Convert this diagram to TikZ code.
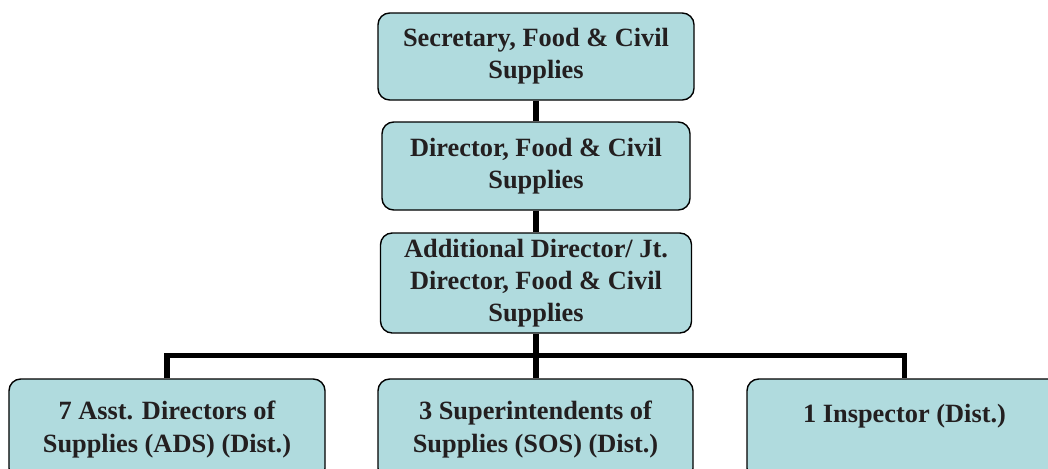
\documentclass[tikz,border=0pt]{standalone}
\usepackage{fontspec}
\setmainfont{Liberation Serif}

\definecolor{postfill}{RGB}{176,219,222}
\definecolor{postink}{RGB}{35,31,32}

\begin{document}
\begin{tikzpicture}[x=0.03cm, y=-0.03cm,
	post/.style={draw=black, line width=1.2pt, rounded corners=10pt, fill=postfill,
		text=postink, align=center, inner sep=0pt,
		font=\fontsize{22.5}{27.5}\selectfont\bfseries},
	link/.style={line width=4.4pt}]
	\clip (0,0) rectangle (1048,468);

	% head office
	\node[post, minimum width=9.48cm, minimum height=2.61cm] (sec) at (536,56.5)
		{Secretary, Food \& Civil\\Supplies};
	\node[post, minimum width=9.24cm, minimum height=2.64cm] (dir) at (536,166)
		{Director, Food \& Civil\\Supplies};
	\node[post, minimum width=9.33cm, minimum height=3.0cm] (addl) at (536,283)
		{Additional Director/ Jt.\\Director, Food \& Civil\\Supplies};

	% district level
	\node[post, minimum width=9.48cm, minimum height=3.03cm] (ads) at (167,429.5)
		{7 Asst. Directors of\\Supplies (ADS) (Dist.)};
	\node[post, minimum width=9.45cm, minimum height=3.03cm] (sos) at (535.5,429.5)
		{3 Superintendents of\\Supplies (SOS) (Dist.)};
	\node[post, minimum width=9.45cm, minimum height=3.03cm] (insp) at (904.5,429.5)
		{1 Inspector (Dist.)\\ \mbox{}};

	\coordinate (bus) at (536,355.5);
	\draw[link] (sec.south) -- (dir.north);
	\draw[link] (dir.south) -- (addl.north);
	\draw[link] (addl.south) -- (bus) -- (bus |- sos.north);
	\draw[link] (ads.north) |- (bus) -| (insp.north);
\end{tikzpicture}
\end{document}
